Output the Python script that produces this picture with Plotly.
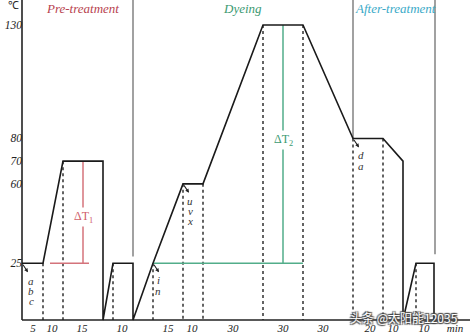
import plotly.graph_objects as go

# ---- data (schematic time position, temperature in deg C) ----
profile_x = [22, 43, 63, 103, 103, 113, 133, 133, 153, 183, 203, 263, 303, 353, 383, 403, 403, 416, 434, 434]
profile_t = [25, 25, 70, 70, 0, 25, 25, 0, 25, 60, 60, 130, 130, 80, 80, 70, 0, 25, 25, 0]

dash_x = [43, 63, 113, 153, 183, 203, 263, 303, 353, 383, 416]
dash_t = [25, 70, 25, 25, 60, 60, 130, 130, 80, 80, 25]

sep_x = [133, 353, 435]
sep_t_low = [28, 80, 29]

temp_ticks = [25, 60, 70, 80, 130]
temp_labels = ["25", "60", "70", "80", "130"]

seg_pos = [33, 52, 82, 122, 168, 192, 233, 283, 323, 370, 393, 424, 455]
seg_labels = ["5", "10", "15", "10", "15", "10", "30", "30", "30", "20", "10", "10", "min"]

phase_names = ["Pre-treatment", "Dyeing", "After-treatment"]
phase_pos = [82, 242, 395]
phase_colors = ["#b8434f", "#3c9a72", "#3aaac8"]

dT1 = {"x": 83, "t_top": 70, "t_base": 25, "h_from": 50, "h_to": 89}
dT2 = {"x": 283, "t_top": 130, "t_base": 25, "h_from": 153, "h_to": 303}

letter_groups = [
    {"corner": (22, 25), "x": 31, "letters": ["a", "b", "c"], "y_px": [281, 291, 301]},
    {"corner": (153, 25), "x": 158, "letters": ["i", "n"], "y_px": [280, 291]},
    {"corner": (183, 60), "x": 190, "letters": ["u", "v", "x"], "y_px": [201, 211, 221]},
    {"corner": (353, 80), "x": 361, "letters": ["d", "a"], "y_px": [155, 166]},
]

# ---- geometry helpers ----
W, H = 470, 334
BASE_PX = 320
S = (BASE_PX - 25) / 130.0  # px per degree
T_TOP = BASE_PX / S
T_BOT = -(H - BASE_PX) / S


def px2t(py):
    return (BASE_PX - py) / S


serif = "Liberation Serif"
fig = go.Figure()

# axes lines
fig.add_trace(go.Scatter(x=[22, 22, None, 22, 470], y=[T_TOP, 0, None, 0, 0], mode="lines",
                         line=dict(color="#222", width=1.6), hoverinfo="skip", showlegend=False))

# phase separators
sx, sy = [], []
for x, lo in zip(sep_x, sep_t_low):
    sx += [x, x, None]
    sy += [T_TOP, lo, None]
fig.add_trace(go.Scatter(x=sx, y=sy, mode="lines", line=dict(color="#8a8a8a", width=1.6),
                         hoverinfo="skip", showlegend=False))

# dashed drop lines
dx, dy = [], []
for x, t in zip(dash_x, dash_t):
    dx += [x, x, None]
    dy += [t, 0, None]
fig.add_trace(go.Scatter(x=dx, y=dy, mode="lines", line=dict(color="#222", width=1.4, dash="3px,3px"),
                         hoverinfo="skip", showlegend=False))

# delta T markers
fig.add_trace(go.Scatter(x=[dT1["x"], dT1["x"], None, dT1["h_from"], dT1["h_to"]],
                         y=[dT1["t_top"], dT1["t_base"], None, dT1["t_base"], dT1["t_base"]],
                         mode="lines", line=dict(color="#d4737b", width=1.5), hoverinfo="skip", showlegend=False))
fig.add_trace(go.Scatter(x=[dT2["x"], dT2["x"], None, dT2["h_from"], dT2["h_to"]],
                         y=[dT2["t_top"], dT2["t_base"], None, dT2["t_base"], dT2["t_base"]],
                         mode="lines", line=dict(color="#52ad8a", width=1.5), hoverinfo="skip", showlegend=False))

# temperature profile
fig.add_trace(go.Scatter(x=profile_x, y=profile_t, mode="lines", line=dict(color="#1a1a1a", width=1.6),
                         hoverinfo="skip", showlegend=False))

ann = []
ann.append(dict(x=dT1["x"], y=px2t(217), text="ΔT<sub>1</sub>", showarrow=False, bgcolor="white",
                font=dict(family=serif, size=12, color="#d0606a")))
ann.append(dict(x=dT2["x"], y=px2t(140), text="ΔT<sub>2</sub>", showarrow=False, bgcolor="white",
                font=dict(family=serif, size=12, color="#3c9a72")))

for name, pos, col in zip(phase_names, phase_pos, phase_colors):
    ann.append(dict(x=pos, y=px2t(8), text=name, showarrow=False,
                    font=dict(family=serif, size=13, color=col, style="italic")))

ann.append(dict(x=13, y=px2t(5), text="℃", showarrow=False,
                font=dict(family=serif, size=11, color="#222")))

for g in letter_groups:
    cx, ct = g["corner"]
    ann.append(dict(x=cx + 6, y=ct - 9 / S, ax=-6, ay=-9, text="", showarrow=True,
                    arrowhead=2, arrowsize=0.7, arrowwidth=1.1, arrowcolor="#222"))
    for L, ypx in zip(g["letters"], g["y_px"]):
        ann.append(dict(x=g["x"], y=px2t(ypx), text=L, showarrow=False, borderpad=0,
                        font=dict(family=serif, size=11, color="#333", style="italic")))

ann.append(dict(x=404, y=px2t(317), text="头条 @太阳能12035", showarrow=False,
                font=dict(family="Noto Sans CJK SC", size=12, color="white",
                          shadow="1px 1px 1px #444, -1px -1px 1px #444, 1px -1px 1px #444, -1px 1px 1px #444")))

fig.update_layout(
    width=W, height=H, margin=dict(l=0, r=0, t=0, b=0, autoexpand=False),
    paper_bgcolor="white", plot_bgcolor="white",
    annotations=ann,
    xaxis=dict(range=[0, W], showgrid=False, zeroline=False, showline=False, automargin=False,
               tickvals=seg_pos, ticktext=seg_labels, ticks="",
               tickfont=dict(family=serif, size=11, color="#222", style="italic"),
               anchor="free", position=(H - BASE_PX) / H, fixedrange=True),
    yaxis=dict(range=[T_BOT, T_TOP], showgrid=False, zeroline=False, showline=False, automargin=False,
               tickvals=temp_ticks, ticktext=temp_labels, ticks="",
               tickfont=dict(family=serif, size=11.5, color="#222", style="italic"),
               anchor="free", position=22 / W, fixedrange=True),
)

fig.write_html("out.html")
